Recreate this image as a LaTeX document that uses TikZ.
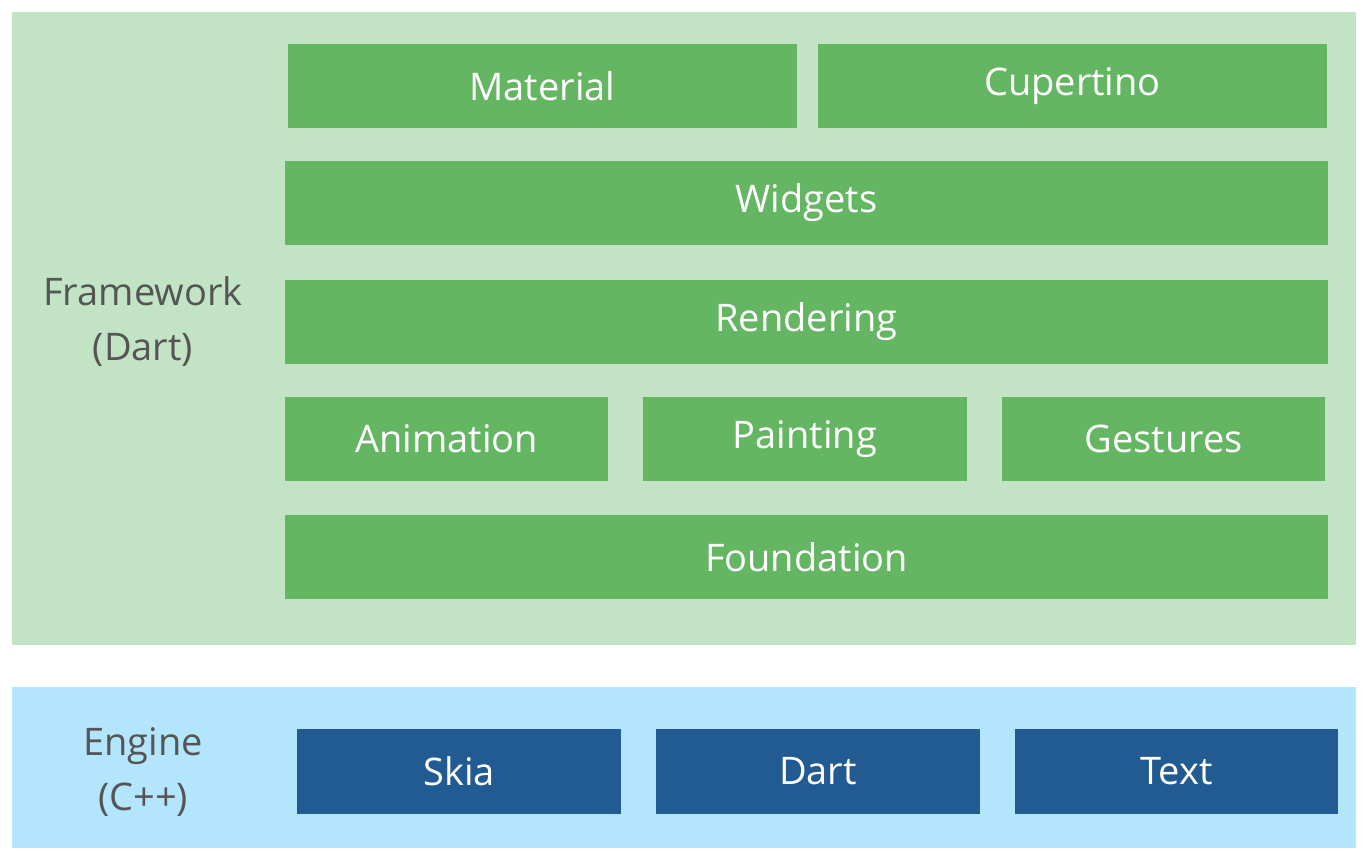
\documentclass[tikz,border=0pt]{standalone}
\usepackage{fontspec}
\setmainfont{Open Sans}
\definecolor{bggreen}{HTML}{C2E4C4}
\definecolor{bgblue}{HTML}{B3E5FC}
\definecolor{boxgreen}{HTML}{64B663}
\definecolor{boxblue}{HTML}{225A92}
\definecolor{labgrey}{HTML}{555555}
\begin{document}
\begin{tikzpicture}[x=1pt,y=-1pt,
  g/.style={fill=boxgreen,draw=none},
  b/.style={fill=boxblue,draw=none},
  t/.style={text=white,font=\fontsize{38}{44}\selectfont},
  lab/.style={text=labgrey,align=center,font=\fontsize{38}{55}\selectfont}]
\useasboundingbox (0,0) rectangle (1366,858);
\fill[white] (0,0) rectangle (1366,858);
\fill[bggreen] (12,12) rectangle (1356,645);
\fill[bgblue] (12,687) rectangle (1356,848);
\foreach \n/\xa/\ya/\xb/\yb/\s in {
  material/288/44/797/128/Material,
  cupertino/818/44/1327/128/Cupertino,
  widgets/285/161/1328/245/Widgets,
  rendering/285/280/1328/364/Rendering,
  animation/285/397/608/481/Animation,
  painting/643/397/967/481/Painting,
  gestures/1002/397/1325/481/Gestures,
  foundation/285/515/1328/599/Foundation}{
  \fill[g] (\xa,\ya) rectangle (\xb,\yb);
  \node[t] (\n) at ({(\xa+\xb)/2},{(\ya+\yb)/2}) {\s};
}
\foreach \n/\xa/\xb/\s in {skia/297/621/Skia, dart/656/980/Dart, text/1015/1338/Text}{
  \fill[b] (\xa,729) rectangle (\xb,814);
  \node[t] (\n) at ({(\xa+\xb)/2},771.5) {\s};
}
\node[lab] (fw) at (143,322) {Framework\\(Dart)};
\node[lab] (en) at (143,772) {Engine\\(C++)};
\end{tikzpicture}
\end{document}
